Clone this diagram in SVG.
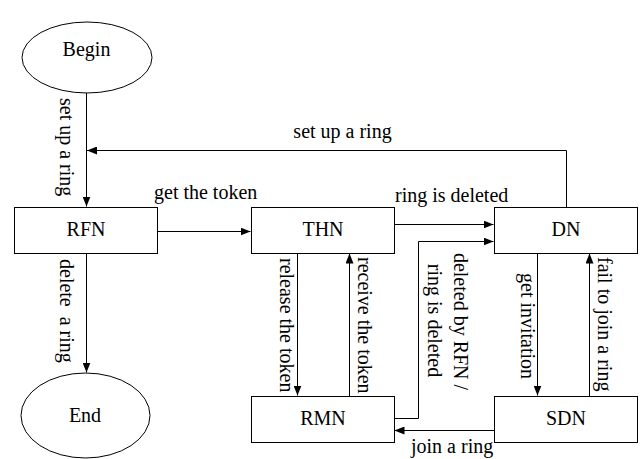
<svg xmlns="http://www.w3.org/2000/svg" width="644" height="459" viewBox="0 0 644 459">
<defs>
<style>
.n{fill:#fff;stroke:#000;stroke-width:1}
.t{font-family:"Liberation Serif","Times New Roman",serif;font-size:20px;fill:#000}
.c{text-anchor:middle}
.e{fill:none;stroke:#000;stroke-width:1;marker-end:url(#ah)}
</style>
<marker id="ah" markerUnits="userSpaceOnUse" markerWidth="10" markerHeight="8" refX="10" refY="4" orient="auto">
<path d="M0,0 L10,4 L0,8 z" fill="#000"/>
</marker>
</defs>
<rect width="644" height="459" fill="#fff"/>
<g id="connectors">
<path class="e" d="M86.5,93 V206.5"/>
<path class="e" d="M86.5,253 V372.5"/>
<path class="e" d="M566.5,207 V150.5 H87"/>
<path class="e" d="M157,231.5 H250.5"/>
<path class="e" d="M395,224.5 H493.5"/>
<path class="e" d="M394,418.5 H418.5 V241.5 H493.5"/>
<path class="e" d="M297.5,253 V395.5"/>
<path class="e" d="M349.5,396 V253.5"/>
<path class="e" d="M537.5,253 V395.5"/>
<path class="e" d="M589.5,396 V253.5"/>
<path class="e" d="M494,430.5 H394.5"/>
</g>
<g id="edge-labels">
<text class="t c" x="342.5" y="138">set up a ring</text>
<text class="t" x="154" y="199">get the token</text>
<text class="t" x="395" y="202">ring is deleted</text>
<text class="t" x="411" y="453">join a ring</text>
<text class="t" transform="translate(60,98) rotate(90)">set up a ring</text>
<text class="t" xml:space="preserve" transform="translate(60,259) rotate(90)">delete  a ring</text>
<text class="t" transform="translate(280,258) rotate(90)">release the token</text>
<text class="t" transform="translate(357.5,257) rotate(90)">receive the token</text>
<text class="t c" transform="translate(453.5,321.5) rotate(90)">deleted by RFN /</text>
<text class="t c" transform="translate(428,320.5) rotate(90)">ring is deleted</text>
<text class="t" transform="translate(521,273) rotate(90)">get invitation</text>
<text class="t" transform="translate(598,257) rotate(90)">fail to join a ring</text>
</g>
<g id="Begin">
<ellipse class="n" cx="87" cy="57.5" rx="65" ry="35.5"/>
<text class="t c" x="86.5" y="56">Begin</text>
</g>
<g id="End">
<ellipse class="n" cx="85.5" cy="415.5" rx="64.5" ry="42.5"/>
<text class="t c" x="85" y="422">End</text>
</g>
<g id="RFN">
<rect class="n" x="14.5" y="207.5" width="143" height="46"/>
<text class="t c" x="86" y="236">RFN</text>
</g>
<g id="THN">
<rect class="n" x="251.5" y="207.5" width="143" height="46"/>
<text class="t c" x="323" y="236">THN</text>
</g>
<g id="DN">
<rect class="n" x="494.5" y="207.5" width="143" height="46"/>
<text class="t c" x="566" y="236">DN</text>
</g>
<g id="RMN">
<rect class="n" x="251.5" y="396.5" width="143" height="46"/>
<text class="t c" x="323" y="425">RMN</text>
</g>
<g id="SDN">
<rect class="n" x="494.5" y="396.5" width="143" height="46"/>
<text class="t c" x="566" y="425">SDN</text>
</g>
</svg>
